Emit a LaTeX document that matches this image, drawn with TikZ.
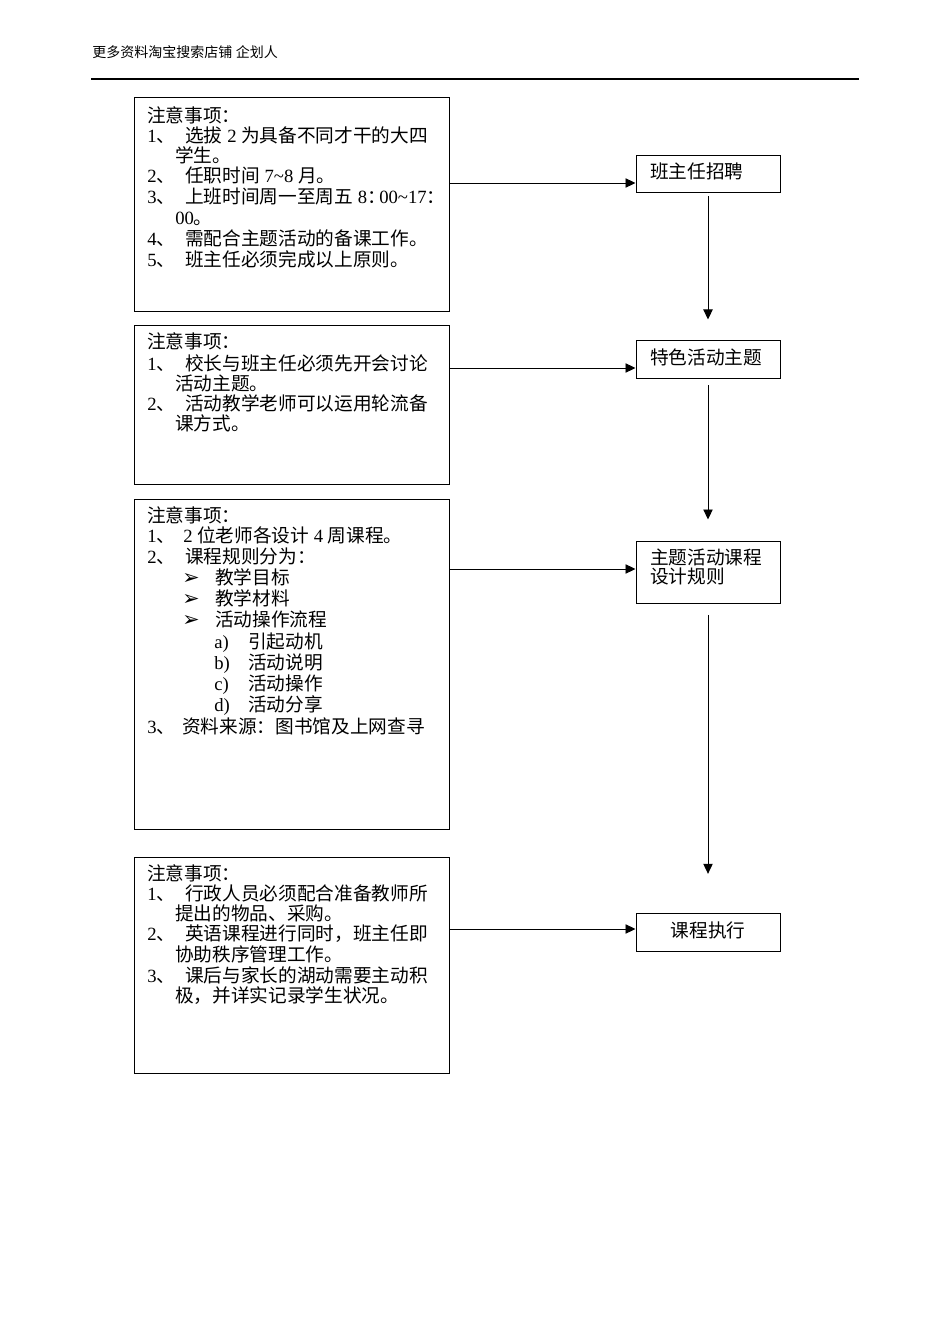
\documentclass[tikz,border=0pt]{standalone}
\usepackage{fontspec}
\setmainfont{Liberation Serif}
\newfontfamily\cjkfont{Noto Sans CJK SC}
\newfontfamily\symfont{DejaVu Sans}
\usetikzlibrary{arrows.meta}
\XeTeXinterchartokenstate=1
\chardef\cjkclass=9
\newcount\cjkc
\def\setcjkrange#1#2{\cjkc=#1\relax\loop\XeTeXcharclass\cjkc=\cjkclass\relax\ifnum\cjkc<#2\relax\advance\cjkc by 1\relax\repeat}
\setcjkrange{"3000}{"303F}
\setcjkrange{"4E00}{"9FFF}
\setcjkrange{"FF00}{"FFEF}
\XeTeXinterchartoks 0 \cjkclass = {\cjkfont}
\XeTeXinterchartoks 4095 \cjkclass = {\cjkfont}
\XeTeXinterchartoks \cjkclass 0 = {\rmfamily}
\XeTeXinterchartoks \cjkclass 4095 = {\rmfamily}
\newcommand\bodyfont{\fontsize{14}{16}\selectfont}
\newcommand\numbox[1]{\makebox[28.5pt][l]{#1}}
\newcommand\arrowbullet{\makebox[24.75pt][l]{\fontsize{15.5}{16}\selectfont\symfont ➢}}
\newcommand\narrowcolon{\makebox[9pt][l]{：}}
\tikzset{
  ln/.style={anchor=base west, inner sep=0pt, font=\bodyfont},
  hd/.style={anchor=base west, inner sep=0pt, font=\fontsize{10.5}{12}\selectfont},
  notebox/.style={draw, line width=0.75pt, inner sep=0pt, minimum width=236.25pt},
  stepbox/.style={draw, line width=0.75pt, inner sep=0pt, minimum width=108pt},
  arr/.style={line width=0.7pt, -{Triangle[length=7.5pt,width=7pt]}}
}
\begin{document}
\begin{tikzpicture}[x=0.75pt,y=-0.75pt]
\useasboundingbox (0,0) rectangle (950,1344);
% header
\node[hd] (hdr) at (92,58) {更多资料淘宝搜索店铺 企划人};
\coordinate (ruleL) at (91,79);
\coordinate (ruleR) at (859,79);
\draw[line width=1pt] (ruleL) -- (ruleR);
% left boxes
\node[notebox, minimum height=160.5pt] (b1) at (291.5,205) {};
\node[notebox, minimum height=119.6pt] (b2) at (291.5,405.25) {};
\node[notebox, minimum height=247.5pt] (b3) at (291.5,664) {};
\node[notebox, minimum height=162pt] (b4) at (291.5,965) {};
% right boxes
\node[stepbox, minimum height=27.75pt] (r1) at (708,174.5) {};
\node[stepbox, minimum height=28.5pt] (r2) at (708,359) {};
\node[stepbox, minimum height=46.5pt] (r3) at (708,572) {};
\node[stepbox, minimum height=28.5pt] (r4) at (708,932) {};
\node[ln] (r1t) at (650,179) {班主任招聘};
\node[ln] (r2t) at (650,364) {特色活动主题};
\node[ln] (r3t) at (650,564) {主题活动课程};
\node[ln] (r3u) at (650,583) {设计规则};
\node[ln, anchor=base] (r4t) at (708,937) {课程执行};
% box 1 text
\node[ln] (a0) at (147,123) {注意事项：};
\node[ln] (a1) at (147,143) {\numbox{1、}选拔 2 为具备不同才干的大四};
\node[ln] (a2) at (175,163) {学生。};
\node[ln] (a3) at (147,183) {\numbox{2、}任职时间 7\textasciitilde 8 月。};
\node[ln] (a4) at (147,204) {\numbox{3、}上班时间周一至周五 8\narrowcolon 00\textasciitilde 17\narrowcolon};
\node[ln] (a5) at (175,225) {00。};
\node[ln] (a6) at (147,246) {\numbox{4、}需配合主题活动的备课工作。};
\node[ln] (a7) at (147,267) {\numbox{5、}班主任必须完成以上原则。};
% box 2 text
\node[ln] (c0) at (147,349) {注意事项：};
\node[ln] (c1) at (147,370) {\numbox{1、}校长与班主任必须先开会讨论};
\node[ln] (c2) at (175,390) {活动主题。};
\node[ln] (c3) at (147,410) {\numbox{2、}活动教学老师可以运用轮流备};
\node[ln] (c4) at (175,430) {课方式。};
% box 3 text
\node[ln] (d0) at (147,522) {注意事项：};
\node[ln] (d1) at (147,542) {\makebox[27pt][l]{1、}2 位老师各设计 4 周课程。};
\node[ln] (d2) at (147,563) {\numbox{2、}课程规则分为：};
\node[ln] (d3) at (182,584) {\arrowbullet 教学目标};
\node[ln] (d4) at (182,605) {\arrowbullet 教学材料};
\node[ln] (d5) at (182,626) {\arrowbullet 活动操作流程};
\node[ln] (d6) at (214,648) {\makebox[25.5pt][l]{a)}引起动机};
\node[ln] (d7) at (214,669) {\makebox[25.5pt][l]{b)}活动说明};
\node[ln] (d8) at (214,690) {\makebox[25.5pt][l]{c)}活动操作};
\node[ln] (d9) at (214,711) {\makebox[25.5pt][l]{d)}活动分享};
\node[ln] (d10) at (147,733) {\makebox[26.25pt][l]{3、}资料来源：图书馆及上网查寻};
% box 4 text
\node[ln] (e0) at (147,880) {注意事项：};
\node[ln] (e1) at (147,900) {\numbox{1、}行政人员必须配合准备教师所};
\node[ln] (e2) at (175,920) {提出的物品、采购。};
\node[ln] (e3) at (147,940) {\numbox{2、}英语课程进行同时，班主任即};
\node[ln] (e4) at (175,961) {协助秩序管理工作。};
\node[ln] (e5) at (147,982) {\numbox{3、}课后与家长的湖动需要主动积};
\node[ln] (e6) at (175,1002) {极，并详实记录学生状况。};
% horizontal connectors
\coordinate (h1) at (0,183);
\coordinate (h2) at (0,368);
\coordinate (h3) at (0,569);
\coordinate (h4) at (0,929);
\draw[arr] (b1.east |- h1) -- (r1.west |- h1);
\draw[arr] (b2.east |- h2) -- (r2.west |- h2);
\draw[arr] (b3.east |- h3) -- (r3.west |- h3);
\draw[arr] (b4.east |- h4) -- (r4.west |- h4);
% vertical connectors
\draw[arr, shorten <=2.25pt, shorten >=15pt] (r1.south) -- (r2.north);
\draw[arr, shorten <=5pt, shorten >=15.75pt] (r2.south) -- (r3.north);
\draw[arr, shorten <=8.5pt, shorten >=29pt] (r3.south) -- (r4.north);
\end{tikzpicture}
\end{document}
